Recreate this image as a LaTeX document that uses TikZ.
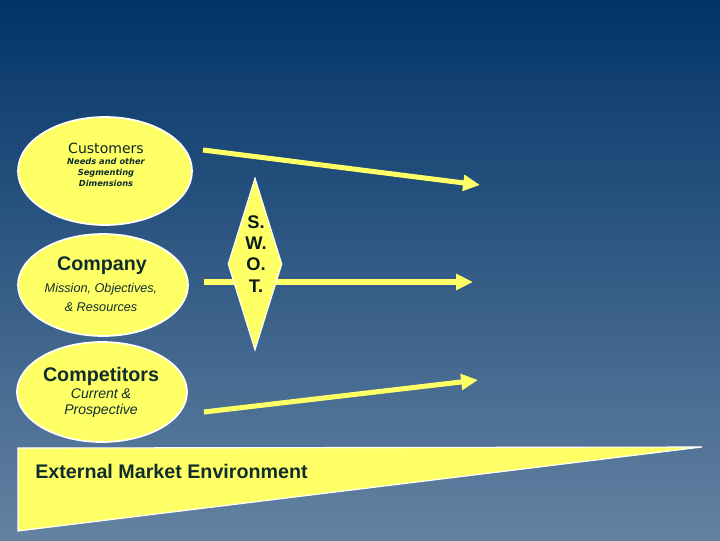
\documentclass[tikz,border=0pt]{standalone}
\usepackage{fontspec}
\setmainfont{Liberation Sans}
\newfontfamily\wideface{DejaVu Sans}
\usetikzlibrary{shapes.geometric,arrows.meta}
\definecolor{bgtop}{RGB}{2,52,104}
\definecolor{bgbottom}{RGB}{100,130,162}
\definecolor{pale}{RGB}{255,255,102}
\definecolor{ink}{RGB}{15,45,45}

\begin{document}
\begin{tikzpicture}[x=0.025cm, y=-0.025cm,
  blob/.style={draw=white, line width=1.2pt, fill=pale, ellipse, inner sep=0pt},
  flow/.style={draw=pale, line width=3.6pt, -{Triangle[length=12pt,width=11pt]}},
  title/.style={text=ink, inner sep=0pt, font=\bfseries\fontsize{14}{16}\selectfont},
  sub/.style={text=ink, inner sep=0pt, align=center, font=\itshape\fontsize{9}{13.5}\selectfont}]
  \shade[top color=bgtop, bottom color=bgbottom] (0,0) rectangle (720,540);

  % external market wedge
  \coordinate (wedgeA) at (18,448);
  \coordinate (wedgeB) at (702,447);
  \coordinate (wedgeC) at (18,531);
  \filldraw[fill=pale, draw=white, line width=0.8pt] (wedgeA) -- (wedgeB) -- (wedgeC) -- cycle;
  \node [anchor=west, inner sep=0pt, text=ink, font=\bfseries\fontsize{14}{16}\selectfont] (market) at (35,471) {External Market Environment};

  % the three circles
  \node [blob, minimum width=4.35cm, minimum height=2.7cm] (customers) at (105,171) {};
  \node [blob, minimum width=4.25cm, minimum height=2.55cm] (company) at (103,285) {};
  \node [blob, minimum width=4.25cm, minimum height=2.5cm] (rivals) at (102,392) {};

  \node [text=ink!80!black, inner sep=0pt, font=\wideface\fontsize{10}{12}\selectfont] (custtitle) at (106,148) {Customers};
  \node [sub, font=\wideface\bfseries\itshape\fontsize{5.9}{7.8}\selectfont] (custsub) at (106,172) {Needs and other\\Segmenting\\Dimensions};
  \node [title] (comptitle) at (102,266) {Company};
  \node [sub] (compsub) at (101,297) {Mission, Objectives,\\\& Resources};
  \node [title] (rivaltitle) at (101,376) {Competitors};
  \node [sub, font=\itshape\fontsize{10}{11.5}\selectfont] (rivalsub) at (101,403) {Current \&\\Prospective};

  % arrows
  \coordinate (topA) at (203,150);
  \coordinate (topB) at (480,185);
  \coordinate (midA) at (204,282);
  \coordinate (midB) at (473,282);
  \coordinate (lowA) at (204,412);
  \coordinate (lowB) at (478,380);
  \draw [flow] (topA) -- (topB);
  \draw [flow] (midA) -- (midB);
  \draw [flow] (lowA) -- (lowB);

  % swot diamond
  \node [diamond, draw=white, line width=0.8pt, fill=pale, inner sep=0pt, minimum width=1.35cm, minimum height=4.3cm] (swot) at (255,264) {};
  \node [text=ink!60!black, align=center, inner sep=0pt, font=\bfseries\fontsize{13}{15}\selectfont] (swottext) at (256,254) {S.\\W.\\O.\\T.};
\end{tikzpicture}
\end{document}
